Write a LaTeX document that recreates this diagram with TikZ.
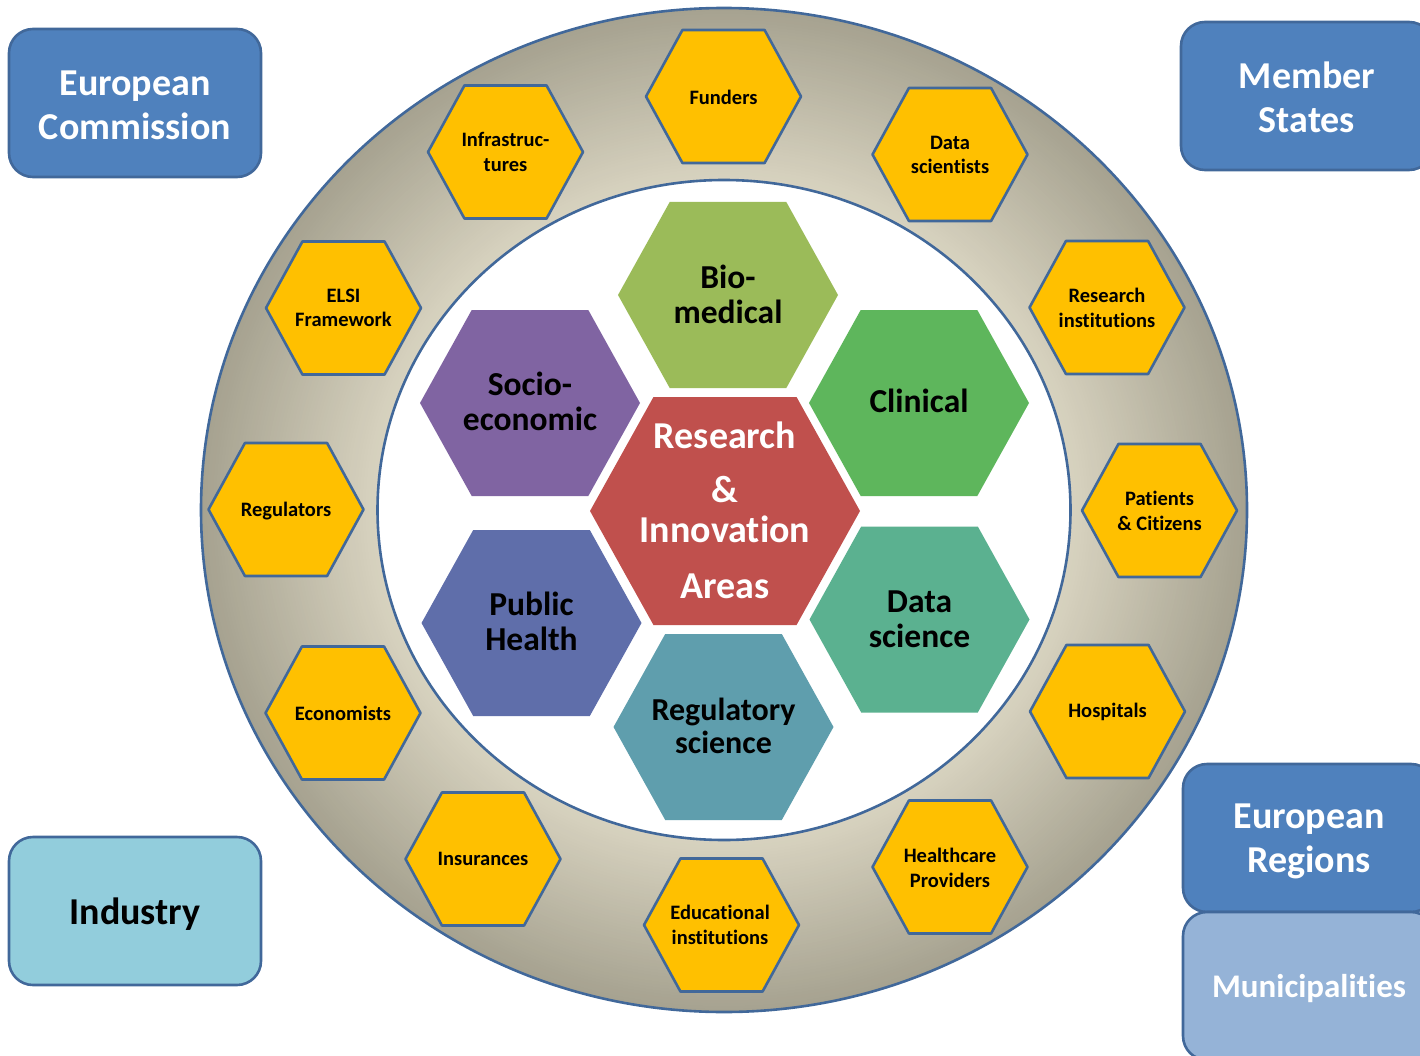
\documentclass[tikz,border=0pt]{standalone}
\usepackage{fontspec}
\setmainfont{Carlito}[Ligatures=NoCommon]
\definecolor{ringout}{HTML}{A6A290}
\definecolor{ringin}{HTML}{D8D3C0}
\definecolor{edgeblue}{HTML}{41689A}
\definecolor{hexyellow}{HTML}{FFC000}
\definecolor{boxblue}{HTML}{4F81BD}
\definecolor{boxlight}{HTML}{92CDDC}
\definecolor{boxpale}{HTML}{95B3D7}
\definecolor{cpurple}{HTML}{8064A2}
\definecolor{cbio}{HTML}{9BBB59}
\definecolor{cclin}{HTML}{5EB65C}
\definecolor{cred}{HTML}{C0504D}
\definecolor{cpub}{HTML}{5F6EAA}
\definecolor{cdata}{HTML}{5BB190}
\definecolor{creg}{HTML}{5F9EAD}
\newcommand\hexpath[5]{% x, y, half width, half height, options
  \path[#5] ({#1-#3},#2) -- ({#1-0.53*#3},{#2-#4}) -- ({#1+0.53*#3},{#2-#4})
    -- ({#1+#3},#2) -- ({#1+0.53*#3},{#2+#4}) -- ({#1-0.53*#3},{#2+#4}) -- cycle;}
\begin{document}
\begin{tikzpicture}[x=1pt,y=-1pt,
  smallhex/.style={fill=hexyellow,draw=edgeblue,line width=2.6pt,line join=round},
  smalltxt/.style={align=center,font=\fontsize{20.5}{24.5}\selectfont\bfseries,inner sep=0pt},
  bigtxt/.style={align=center,font=\fontsize{33.5}{35}\selectfont\bfseries,inner sep=0pt},
  boxnode/.style={rectangle,rounded corners=24pt,draw=edgeblue,line width=2.6pt,
    minimum width=252pt,minimum height=148pt,fill=boxblue},
  boxtxt/.style={align=center,inner sep=0pt,font=\fontsize{38}{44}\selectfont\bfseries,text=white}]
\useasboundingbox (0,0) rectangle (1420,1056);
\clip (0,0) rectangle (1420,1056);
% ring
\foreach \i in {0,...,59}{
  \pgfmathsetmacro\f{\i/59}
  \pgfmathsetmacro\rx{523-\f*(523-346.5)}
  \pgfmathsetmacro\ry{502-\f*(502-330)}
  \pgfmathsetmacro\p{100*\f}
  \fill[ringin!\p!ringout] (724,510) ellipse [x radius=\rx, y radius=\ry];
}
\draw[edgeblue,line width=2.6pt] (724,510) ellipse [x radius=523, y radius=502];
\draw[edgeblue,line width=2.6pt,fill=white] (724,510) ellipse [x radius=346.5, y radius=330];
% outer yellow hexagons
\foreach \x/\y in {723.5/96.5, 950/154.5, 1107/307.5, 1159.5/510.5, 1107.5/711.5, 950/867,
  721.5/925, 483/859, 343/713, 286/509.5, 343.5/308, 505.5/152}{
  \hexpath{\x}{\y}{77.5}{66.5}{smallhex}
}
\node[smalltxt] (funders) at (723.5,97) {Funders};
\node[smalltxt] (datasci) at (950,155) {Data\\scientists};
\node[smalltxt] (resinst) at (1107,308) {Research\\institutions};
\node[smalltxt] (patients) at (1159.5,511) {Patients\\\& Citizens};
\node[smalltxt] (hospitals) at (1107.5,712) {Hospitals};
\node[smalltxt] (health) at (950,868) {Healthcare\\Providers};
\node[smalltxt] (edu) at (720,925) {Educational\\institutions};
\node[smalltxt] (insur) at (483,859) {Insurances};
\node[smalltxt] (econ) at (343,713) {Economists};
\node[smalltxt] (regul) at (286,511) {Regulators};
\node[smalltxt] (elsi) at (343.5,308) {ELSI\\Framework};
\node[smalltxt] (infra) at (505.5,152) {Infrastruc-\\tures};
% inner hexagons
\hexpath{728}{295}{110}{93}{fill=cbio}
\hexpath{530}{403}{110}{93}{fill=cpurple}
\hexpath{919}{403}{110}{93}{fill=cclin}
\hexpath{531.5}{623}{110}{93}{fill=cpub}
\hexpath{919.5}{619.5}{110}{93}{fill=cdata}
\hexpath{723.5}{727}{110}{93}{fill=creg}
\hexpath{725}{511}{135}{114}{fill=cred}
\node[bigtxt] (bio) at (728,294) {Bio-\\medical};
\node[bigtxt] (socio) at (530,401) {Socio-\\economic};
\node[bigtxt] (clin) at (919,400.5) {Clinical};
\node[bigtxt] (pub) at (531.5,621) {Public\\Health};
\node[bigtxt] (dsci) at (919.5,619) {Data\\science};
\node[bigtxt,font=\fontsize{32}{33}\selectfont\bfseries] (regsci) at (723.5,726) {Regulatory\\science};
\node[align=center,inner sep=0pt,text=white,font=\fontsize{38}{40}\selectfont\bfseries] (ria) at (725,510.5)
  {Research\\[14pt]\&\\Innovation\\[16pt]Areas};
% boxes
\node[boxnode] (ec) at (135,103) {};
\node[boxnode] (ms) at (1307,96) {};
\node[boxnode,fill=boxlight] (ind) at (135,911) {};
\node[boxnode] (er) at (1309,838) {};
\node[boxnode,fill=boxpale] (mun) at (1309,986) {};
\node[boxtxt] (ec-t) at ([yshift=-2pt]ec.center) {European\\Commission};
\node[boxtxt] (ms-t) at ([yshift=-1pt]ms.center) {Member\\States};
\node[boxtxt,text=black] (ind-t) at ([yshift=-3pt]ind.center) {Industry};
\node[boxtxt] (er-t) at ([yshift=-3pt]er.center) {European\\Regions};
\node[boxtxt,font=\fontsize{33}{40}\selectfont\bfseries] (mun-t) at ([yshift=-3pt]mun.center) {Municipalities};
\end{tikzpicture}
\end{document}
